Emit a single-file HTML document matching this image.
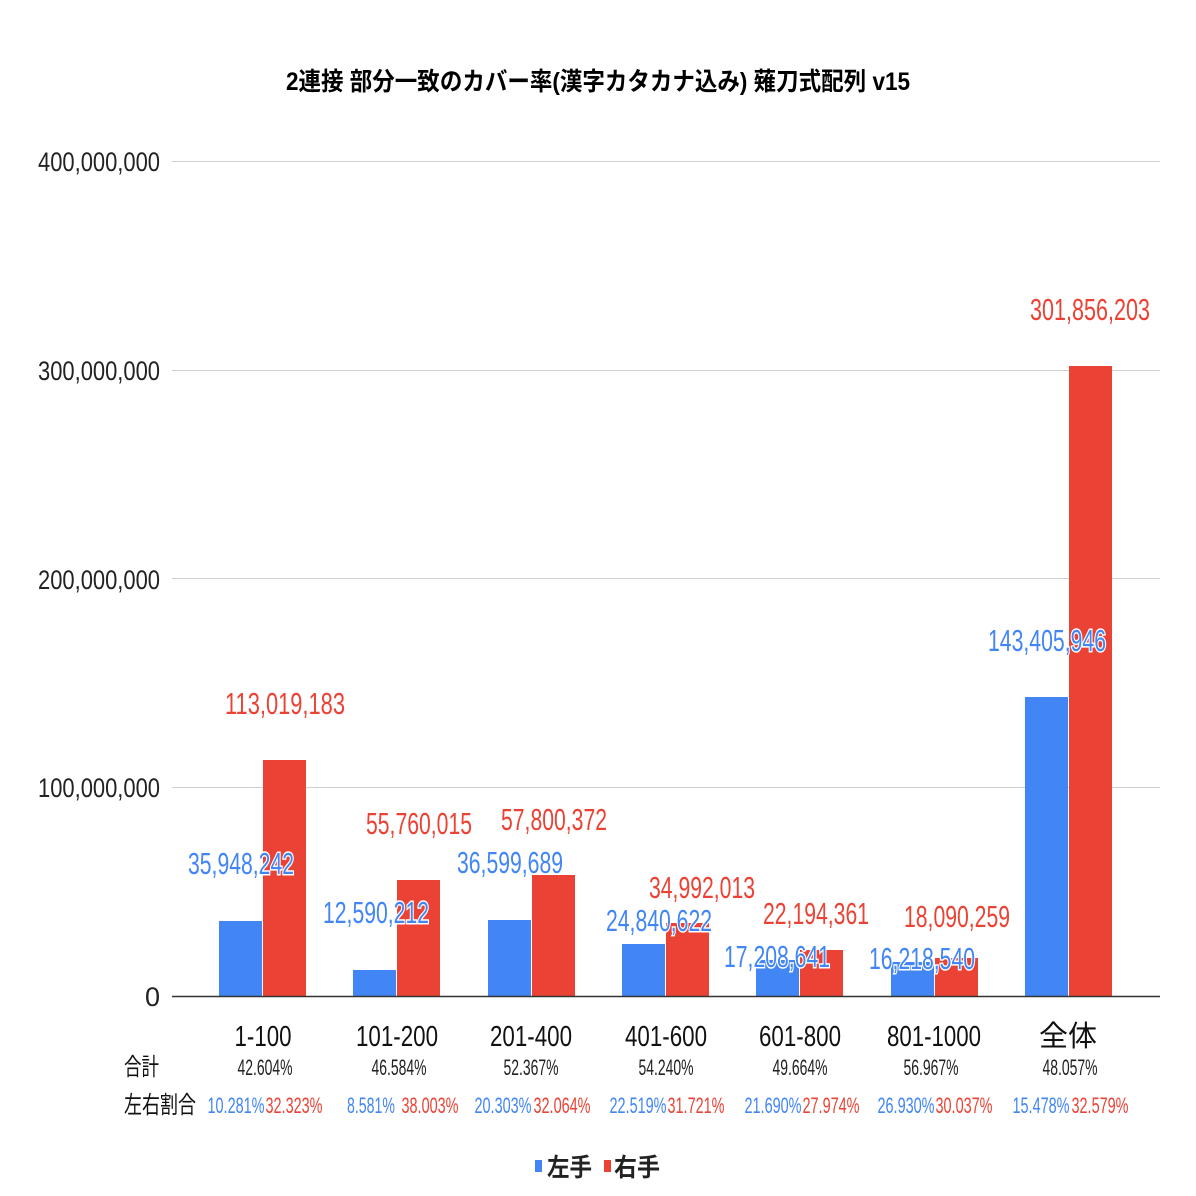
<!DOCTYPE html>
<html><head><meta charset="utf-8"><style>html,body{margin:0;padding:0;background:#fff}svg{display:block}</style></head>
<body>
<svg width="1196" height="1196" viewBox="0 0 1196 1196" xmlns="http://www.w3.org/2000/svg" font-family="'Liberation Sans','Noto Sans CJK JP',sans-serif">
<rect width="1196" height="1196" fill="#fff"/>
<text x="598" y="90" text-anchor="middle" font-size="25" font-weight="bold" textLength="624" lengthAdjust="spacingAndGlyphs">2連接 部分一致のカバー率(漢字カタカナ込み) 薙刀式配列 v15</text>
<g stroke="#d0d0d0" stroke-width="1">
<line x1="172" y1="161.5" x2="1160" y2="161.5"/>
<line x1="172" y1="370.5" x2="1160" y2="370.5"/>
<line x1="172" y1="578.5" x2="1160" y2="578.5"/>
<line x1="172" y1="787.5" x2="1160" y2="787.5"/>
</g>
<g font-size="27" text-anchor="end" fill="#222">
<text x="160" y="171" textLength="122" lengthAdjust="spacingAndGlyphs">400,000,000</text>
<text x="160" y="380" textLength="122" lengthAdjust="spacingAndGlyphs">300,000,000</text>
<text x="160" y="589" textLength="122" lengthAdjust="spacingAndGlyphs">200,000,000</text>
<text x="160" y="797" textLength="122" lengthAdjust="spacingAndGlyphs">100,000,000</text>
<text x="160" y="1006">0</text>
</g>
<g fill="#4285f4">
<rect x="219" y="921" width="43" height="75"/>
<rect x="353" y="970" width="43" height="26"/>
<rect x="488" y="920" width="43" height="76"/>
<rect x="622" y="944" width="43" height="52"/>
<rect x="756" y="960" width="43" height="36"/>
<rect x="891" y="962" width="43" height="34"/>
<rect x="1025" y="697" width="43" height="299"/>
</g>
<g fill="#ea4335">
<rect x="263" y="760" width="43" height="236"/>
<rect x="397" y="880" width="43" height="116"/>
<rect x="532" y="875" width="43" height="121"/>
<rect x="666" y="923" width="43" height="73"/>
<rect x="800" y="950" width="43" height="46"/>
<rect x="935" y="958" width="43" height="38"/>
<rect x="1069" y="366" width="43" height="630"/>
</g>
<line x1="172" y1="996.5" x2="1160" y2="996.5" stroke="#333" stroke-width="1.5"/>
<g font-size="31" text-anchor="middle" fill="#4285f4" stroke="#fff" stroke-width="3" paint-order="stroke">
<text x="241" y="874" textLength="106" lengthAdjust="spacingAndGlyphs">35,948,242</text>
<text x="376" y="923" textLength="106" lengthAdjust="spacingAndGlyphs">12,590,212</text>
<text x="510" y="873" textLength="106" lengthAdjust="spacingAndGlyphs">36,599,689</text>
<text x="659" y="931" textLength="106" lengthAdjust="spacingAndGlyphs">24,840,622</text>
<text x="777" y="967" textLength="106" lengthAdjust="spacingAndGlyphs">17,208,641</text>
<text x="922" y="969" textLength="106" lengthAdjust="spacingAndGlyphs">16,218,540</text>
<text x="1047" y="651" textLength="118" lengthAdjust="spacingAndGlyphs">143,405,946</text>
</g>
<g font-size="31" text-anchor="middle" fill="#ea4335">
<text x="285" y="714" textLength="120" lengthAdjust="spacingAndGlyphs">113,019,183</text>
<text x="419" y="834" textLength="106" lengthAdjust="spacingAndGlyphs">55,760,015</text>
<text x="554" y="830" textLength="106" lengthAdjust="spacingAndGlyphs">57,800,372</text>
<text x="702" y="898" textLength="106" lengthAdjust="spacingAndGlyphs">34,992,013</text>
<text x="816" y="924" textLength="106" lengthAdjust="spacingAndGlyphs">22,194,361</text>
<text x="957" y="927" textLength="106" lengthAdjust="spacingAndGlyphs">18,090,259</text>
<text x="1090" y="320" textLength="120" lengthAdjust="spacingAndGlyphs">301,856,203</text>
</g>
<g font-size="29" text-anchor="middle" fill="#111">
<text x="263" y="1046" textLength="57" lengthAdjust="spacingAndGlyphs">1-100</text>
<text x="397" y="1046" textLength="82" lengthAdjust="spacingAndGlyphs">101-200</text>
<text x="531" y="1046" textLength="82" lengthAdjust="spacingAndGlyphs">201-400</text>
<text x="666" y="1046" textLength="82" lengthAdjust="spacingAndGlyphs">401-600</text>
<text x="800" y="1046" textLength="82" lengthAdjust="spacingAndGlyphs">601-800</text>
<text x="934" y="1046" textLength="94" lengthAdjust="spacingAndGlyphs">801-1000</text>
<text x="1068" y="1046">全体</text>
</g>
<g font-size="24" fill="#111">
<text x="124" y="1075" textLength="35" lengthAdjust="spacingAndGlyphs">合計</text>
<text x="124" y="1113" textLength="72" lengthAdjust="spacingAndGlyphs">左右割合</text>
</g>
<g font-size="22" text-anchor="middle" fill="#222">
<text x="265" y="1075" textLength="55" lengthAdjust="spacingAndGlyphs">42.604%</text>
<text x="399" y="1075" textLength="55" lengthAdjust="spacingAndGlyphs">46.584%</text>
<text x="531" y="1075" textLength="55" lengthAdjust="spacingAndGlyphs">52.367%</text>
<text x="666" y="1075" textLength="55" lengthAdjust="spacingAndGlyphs">54.240%</text>
<text x="800" y="1075" textLength="55" lengthAdjust="spacingAndGlyphs">49.664%</text>
<text x="931" y="1075" textLength="55" lengthAdjust="spacingAndGlyphs">56.967%</text>
<text x="1070" y="1075" textLength="55" lengthAdjust="spacingAndGlyphs">48.057%</text>
</g>
<g font-size="22" text-anchor="middle" fill="#4285f4">
<text x="236" y="1113" textLength="57" lengthAdjust="spacingAndGlyphs">10.281%</text>
<text x="371" y="1113" textLength="48" lengthAdjust="spacingAndGlyphs">8.581%</text>
<text x="503" y="1113" textLength="57" lengthAdjust="spacingAndGlyphs">20.303%</text>
<text x="638" y="1113" textLength="57" lengthAdjust="spacingAndGlyphs">22.519%</text>
<text x="773" y="1113" textLength="57" lengthAdjust="spacingAndGlyphs">21.690%</text>
<text x="906" y="1113" textLength="57" lengthAdjust="spacingAndGlyphs">26.930%</text>
<text x="1041" y="1113" textLength="57" lengthAdjust="spacingAndGlyphs">15.478%</text>
</g>
<g font-size="22" text-anchor="middle" fill="#ea4335">
<text x="294" y="1113" textLength="57" lengthAdjust="spacingAndGlyphs">32.323%</text>
<text x="430" y="1113" textLength="57" lengthAdjust="spacingAndGlyphs">38.003%</text>
<text x="562" y="1113" textLength="57" lengthAdjust="spacingAndGlyphs">32.064%</text>
<text x="696" y="1113" textLength="57" lengthAdjust="spacingAndGlyphs">31.721%</text>
<text x="831" y="1113" textLength="57" lengthAdjust="spacingAndGlyphs">27.974%</text>
<text x="964" y="1113" textLength="57" lengthAdjust="spacingAndGlyphs">30.037%</text>
<text x="1100" y="1113" textLength="57" lengthAdjust="spacingAndGlyphs">32.579%</text>
</g>
<rect x="535" y="1160" width="7" height="12" fill="#4285f4"/>
<text x="547" y="1176" font-size="25" font-weight="bold" fill="#222" textLength="45" lengthAdjust="spacingAndGlyphs">左手</text>
<rect x="604" y="1160" width="7" height="12" fill="#ea4335"/>
<text x="614" y="1176" font-size="25" font-weight="bold" fill="#222" textLength="46" lengthAdjust="spacingAndGlyphs">右手</text>
</svg>
</body></html>
